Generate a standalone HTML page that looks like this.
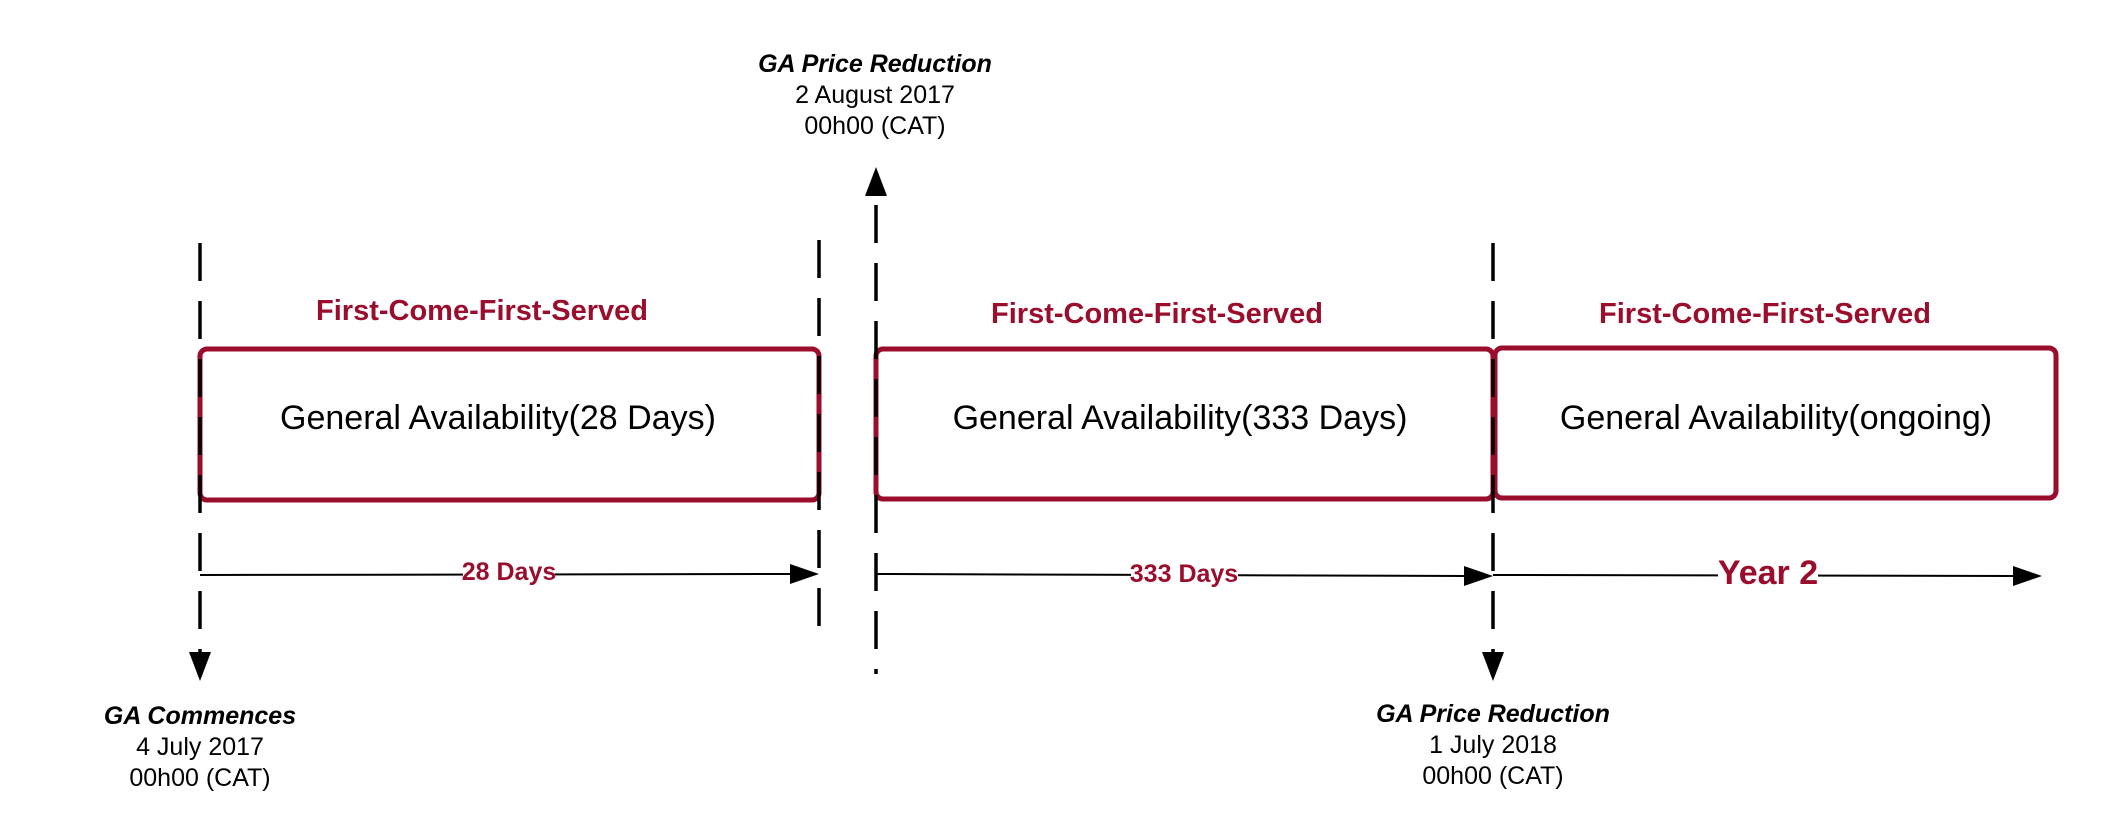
<!DOCTYPE html>
<html><head><meta charset="utf-8"><style>
html,body{margin:0;padding:0;background:#fff;}
svg{display:block;}
text{font-family:"Liberation Sans",Arial,sans-serif;}
</style></head><body>
<svg width="2113" height="840" viewBox="0 0 2113 840" xmlns="http://www.w3.org/2000/svg">
<g fill="#fff" stroke="#9b0d2c" stroke-width="5">
<rect x="200" y="349" width="619" height="151" rx="7"/>
<rect x="876" y="349" width="617" height="150" rx="7"/>
<rect x="1495" y="348" width="561" height="150" rx="7"/>
</g>
<g stroke="#000" stroke-width="3.5" stroke-dasharray="38,20" fill="none">
<line x1="200" y1="243" x2="200" y2="652"/>
<line x1="819" y1="240" x2="819" y2="633"/>
<line x1="876" y1="205" x2="876" y2="674"/>
<line x1="1493" y1="243" x2="1493" y2="652"/>
</g>
<g fill="#000">
<path d="M189,652 L211,652 L200,681 Z"/>
<path d="M865,196 L887,196 L876,167 Z"/>
<path d="M1482,652 L1504,652 L1493,681 Z"/>
</g>
<g stroke="#000" stroke-width="2" fill="none">
<line x1="200" y1="575" x2="790" y2="574"/>
<line x1="876" y1="574" x2="1465" y2="576"/>
<line x1="1493" y1="575" x2="2015" y2="576"/>
</g>
<g fill="#000">
<path d="M790,564 L819,574 L790,584 Z"/>
<path d="M1464,566 L1493,576 L1464,586 Z"/>
<path d="M2013,566 L2042,576 L2013,586 Z"/>
</g>
<rect x="463" y="560" width="92" height="24" fill="#fff"/>
<text x="509" y="580" font-size="25" font-weight="bold" fill="#9b0d2c" text-anchor="middle">28 Days</text>
<rect x="1131" y="562" width="107" height="24" fill="#fff"/>
<text x="1184" y="582" font-size="25" font-weight="bold" fill="#9b0d2c" text-anchor="middle">333 Days</text>
<rect x="1718" y="558" width="100" height="32" fill="#fff"/>
<text x="1768" y="584" font-size="34" font-weight="bold" fill="#9b0d2c" text-anchor="middle">Year 2</text>
<g font-size="29" font-weight="bold" fill="#9b0d2c" text-anchor="middle">
<text x="482" y="320">First-Come-First-Served</text>
<text x="1157" y="323">First-Come-First-Served</text>
<text x="1765" y="323">First-Come-First-Served</text>
</g>
<g font-size="34" fill="#000" text-anchor="middle">
<text x="498" y="429">General Availability(28 Days)</text>
<text x="1180" y="429">General Availability(333 Days)</text>
<text x="1776" y="429">General Availability(ongoing)</text>
</g>
<g font-size="25" fill="#000" text-anchor="middle">
<text x="875" y="72" font-weight="bold" font-style="italic">GA Price Reduction</text>
<text x="875" y="103">2 August 2017</text>
<text x="875" y="134">00h00 (CAT)</text>
<text x="200" y="724" font-weight="bold" font-style="italic">GA Commences</text>
<text x="200" y="755">4 July 2017</text>
<text x="200" y="786">00h00 (CAT)</text>
<text x="1493" y="722" font-weight="bold" font-style="italic">GA Price Reduction</text>
<text x="1493" y="753">1 July 2018</text>
<text x="1493" y="784">00h00 (CAT)</text>
</g>
</svg>
</body></html>
